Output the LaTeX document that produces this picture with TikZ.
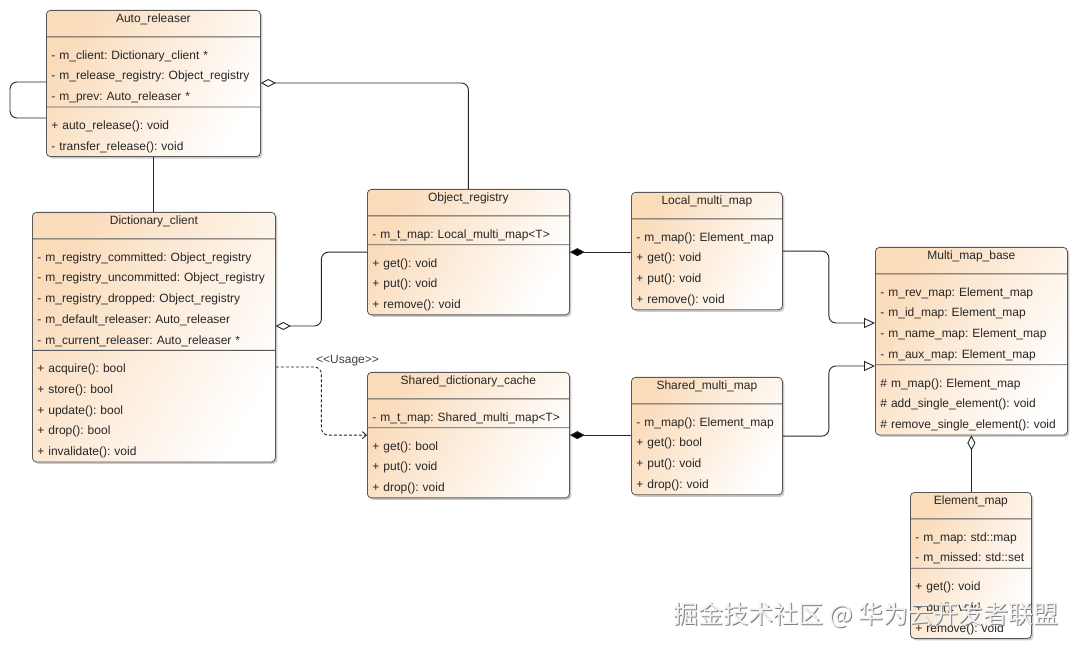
\documentclass[tikz,border=0pt]{standalone}
\usepackage{fontspec}
\newfontfamily\umlfont{Liberation Sans}
\newfontfamily\cjkfont{Noto Sans CJK SC}
\usepackage{tikz}
\usetikzlibrary{arrows.meta}
\usetikzlibrary{calc}
\usetikzlibrary{shadows}
\usetikzlibrary{shapes.multipart}
\definecolor{boxpeach}{RGB}{250,219,186}
\newcommand{\classname}[1]{\makebox[\linewidth]{\rule[-10pt]{0pt}{7pt}#1}}
\newcommand{\rowtop}{\rule{0pt}{18.5pt}}
\tikzset{
	classstyle/.style={rectangle split,rectangle split parts=3,draw=black!65,line width=0.8pt,rounded corners=4pt,
		left color=boxpeach,right color=white,shading angle=60,
		drop shadow={shadow xshift=2pt,shadow yshift=-2pt,fill=black!40,opacity=0.5},
		text=black!85,font=\umlfont\fontsize{12}{20.7}\selectfont\frenchspacing,align=left,
		inner xsep=5pt,inner ysep=3.5pt,anchor=north west},
	twopartstyle/.style={classstyle,rectangle split parts=2},
	linkstyle/.style={draw=black!85,line width=0.9pt,rounded corners=7pt},
	aggrstyle/.style={linkstyle,arrows={Diamond[open,length=15pt,width=8pt]-}},
	compstyle/.style={linkstyle,arrows={Diamond[length=15pt,width=8pt]-}},
	genstyle/.style={linkstyle,arrows={-Triangle[open,length=11pt,width=10pt]}},
	usagestyle/.style={linkstyle,dash pattern=on 3pt off 2pt,arrows={-Straight Barb[length=4pt,width=7pt]}},
	usagelabel/.style={text=black!75,font=\umlfont\fontsize{12}{14}\selectfont,inner sep=0pt,anchor=west},
	elbow/.style={to path={-| ($(\tikztostart)!0.5!(\tikztotarget)$) |- (\tikztotarget)}},
	wmback/.style={text=black!50,font=\cjkfont\fontsize{25}{30}\selectfont,inner sep=0pt},
	wmfront/.style={text=white!95!black,font=\cjkfont\fontsize{25}{30}\selectfont,inner sep=0pt}
}

\begin{document}
\begin{tikzpicture}[x=1pt,y=-1pt]
	\useasboundingbox[fill=white] (0,0) rectangle (1080,652);
	% classes
	\node[classstyle,text width=204pt] (autorel) at (46,10) {\classname{Auto\_releaser}
		\nodepart{two}\rowtop - m\_client: Dictionary\_client *\\
		- m\_release\_registry: Object\_registry\\
		- m\_prev: Auto\_releaser *
		\nodepart{three}\rowtop + auto\_release(): void\\
		- transfer\_release(): void};
	\node[classstyle,text width=233pt] (dict) at (32,212) {\classname{Dictionary\_client}
		\nodepart{two}\rowtop - m\_registry\_committed: Object\_registry\\
		- m\_registry\_uncommitted: Object\_registry\\
		- m\_registry\_dropped: Object\_registry\\
		- m\_default\_releaser: Auto\_releaser\\
		- m\_current\_releaser: Auto\_releaser *
		\nodepart{three}\rowtop + acquire(): bool\\
		+ store(): bool\\
		+ update(): bool\\
		+ drop(): bool\\
		+ invalidate(): void};
	\node[classstyle,text width=192pt] (orreg) at (367,189) {\classname{Object\_registry}
		\nodepart{two}\rowtop - m\_t\_map: Local\_multi\_map<T>
		\nodepart{three}\rowtop + get(): void\\
		+ put(): void\\
		+ remove(): void};
	\node[twopartstyle,text width=141pt] (lmm) at (631,192) {\classname{Local\_multi\_map}
		\nodepart{two}\rowtop - m\_map(): Element\_map\\
		+ get(): void\\
		+ put(): void\\
		+ remove(): void};
	\node[classstyle,text width=192pt] (sdc) at (367,372) {\classname{Shared\_dictionary\_cache}
		\nodepart{two}\rowtop - m\_t\_map: Shared\_multi\_map<T>
		\nodepart{three}\rowtop + get(): bool\\
		+ put(): void\\
		+ drop(): void};
	\node[twopartstyle,text width=141pt] (smm) at (631,377) {\classname{Shared\_multi\_map}
		\nodepart{two}\rowtop - m\_map(): Element\_map\\
		+ get(): bool\\
		+ put(): void\\
		+ drop(): void};
	\node[classstyle,text width=182pt] (mmb) at (875,247) {\classname{Multi\_map\_base}
		\nodepart{two}\rowtop - m\_rev\_map: Element\_map\\
		- m\_id\_map: Element\_map\\
		- m\_name\_map: Element\_map\\
		- m\_aux\_map: Element\_map
		\nodepart{three}\rowtop \# m\_map(): Element\_map\\
		\# add\_single\_element(): void\\
		\# remove\_single\_element(): void};
	\node[classstyle,text width=111pt] (elem) at (910,492) {\classname{Element\_map}
		\nodepart{two}\rowtop - m\_map: std::map\\
		- m\_missed: std::set
		\nodepart{three}\rowtop + get(): void\\
		+ put(): void\\
		+ remove(): void};
	% connector ends
	\coordinate (autoloop) at ([yshift=-72pt]autorel.north west);
	\coordinate (autoagg) at ([yshift=-73pt]autorel.north east);
	\coordinate (dictagg) at ([yshift=-114pt]dict.north east);
	\coordinate (dictuse) at ([yshift=-155pt]dict.north east);
	\coordinate (mmbtop) at ([yshift=-76pt]mmb.north west);
	\coordinate (mmbbot) at ([yshift=-119pt]mmb.north west);
	% connectors
	\draw[linkstyle] (autoloop) -- ++(-36,0) -- ++(0,36) -- ++(36,0);
	\draw[aggrstyle] (autoagg) -| (orreg.north);
	\draw[linkstyle] (autorel.south) -- (autorel.south |- dict.north);
	\draw[aggrstyle] (dictagg) to[elbow] (orreg.west);
	\draw[usagestyle] (dictuse) to[elbow] (sdc.west);
	\node[usagelabel] (uselbl) at (316,361) {<<Usage>>};
	\draw[compstyle] (orreg.east) -- (orreg.east -| lmm.west);
	\draw[compstyle] (sdc.east) -- (sdc.east -| smm.west);
	\draw[genstyle] (lmm.east) to[elbow] (mmbtop);
	\draw[genstyle] (smm.east) to[elbow] (mmbbot);
	\draw[aggrstyle] (mmb.south) -- (mmb.south |- elem.north);
	% watermark
	\node[wmback] (wmshade) at (867,616) {掘金技术社区 @ 华为云开发者联盟};
	\node[wmfront] (wmtext) at (866,615) {掘金技术社区 @ 华为云开发者联盟};
\end{tikzpicture}
\end{document}
